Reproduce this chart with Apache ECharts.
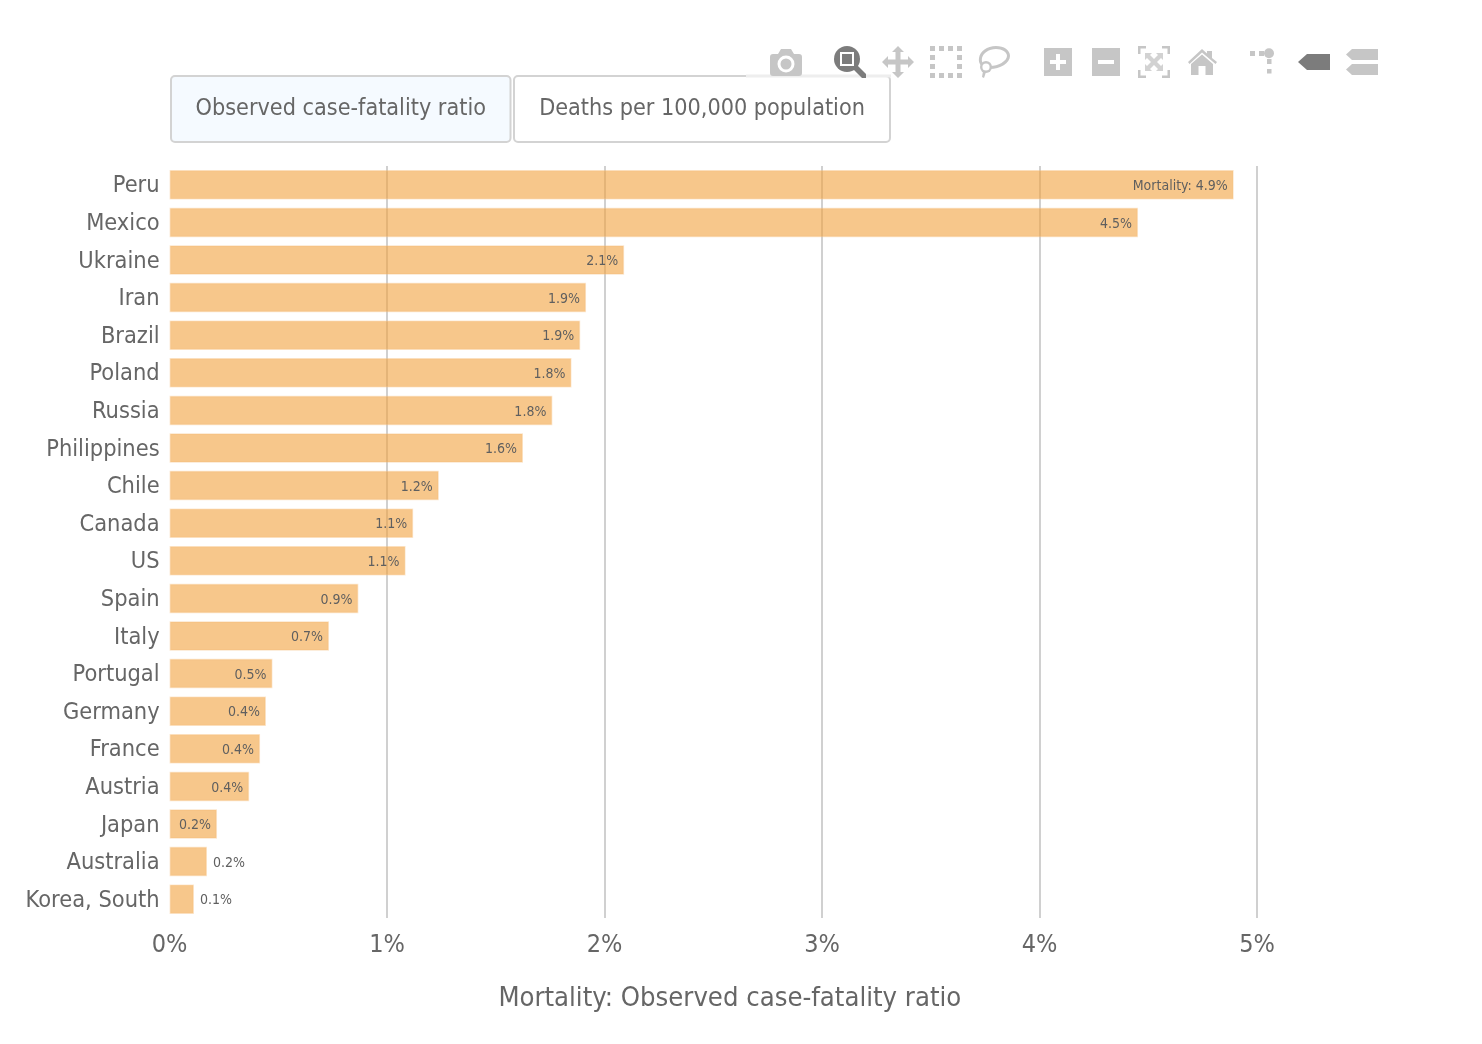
<!DOCTYPE html>
<html>
<head>
<meta charset="utf-8">
<title>Mortality</title>
<script src="https://cdn.jsdelivr.net/npm/echarts@6/dist/echarts.min.js"></script>
<style>
  html, body { margin: 0; padding: 0; background: #fff; }
  #main { width: 1482px; height: 1044px; }
</style>
</head>
<body>
<div id="main"></div>
<script>
var countries = ['Peru', 'Mexico', 'Ukraine', 'Iran', 'Brazil', 'Poland', 'Russia', 'Philippines', 'Chile', 'Canada',
  'US', 'Spain', 'Italy', 'Portugal', 'Germany', 'France', 'Austria', 'Japan', 'Australia', 'Korea, South'];
var mortality = [4.893, 4.453, 2.09, 1.915, 1.888, 1.848, 1.76, 1.625, 1.238, 1.12,
  1.085, 0.868, 0.733, 0.473, 0.443, 0.416, 0.366, 0.218, 0.172, 0.112];
var barLabels = ['Mortality: 4.9%', '4.5%', '2.1%', '1.9%', '1.9%', '1.8%', '1.8%', '1.6%', '1.2%', '1.1%',
  '1.1%', '0.9%', '0.7%', '0.5%', '0.4%', '0.4%', '0.4%', '0.2%', '0.2%', '0.1%'];
var outsideLabels = ['Australia', 'Korea, South'];
var buttonNames = ['Observed case-fatality ratio', 'Deaths per 100,000 population'];
var axisTitle = 'Mortality: Observed case-fatality ratio';

var FONT = '"DejaVu Sans Condensed", "Noto Sans", sans-serif';
var TEXT = '#666';
var LIGHT = '#c6c6c6';
var DARK = '#7c7c7c';

// circle as svg path
function circle(cx, cy, r) {
  return 'M' + (cx - r) + ' ' + cy + 'a' + r + ' ' + r + ' 0 1 0 ' + (2 * r) + ' 0a' + r + ' ' + r + ' 0 1 0 ' + (-2 * r) + ' 0Z';
}

function dashedBox() {
  var p = '';
  for (var i = 0; i < 4; i++) {
    var s = i * 9;
    p += 'M' + s + ' 0h5v5h-5ZM' + s + ' 27h5v5h-5Z';
    if (i > 0 && i < 3) p += 'M0 ' + s + 'h5v5h-5ZM27 ' + s + 'h5v5h-5Z';
  }
  return p;
}

// toolbar icons: x, y, then layers of [path, fill]
var toolIcons = [
  [770, 48, [['M0 9Q0 6 3 6H8L11 1H21L24 6H29Q32 6 32 9V25Q32 28 29 28H3Q0 28 0 25Z', LIGHT], [circle(16, 16, 8.5), '#fff'], [circle(16, 16, 5.5), LIGHT]]],
  [834, 46, [[circle(13, 13, 13), DARK], ['M19 23L23 19L32 28L32 32L28 32Z', DARK], ['M6 6H20V20H6Z', '#fff'], ['M8 8H18V18H8Z', DARK]]],
  [882, 46, [['M16 0L22 6H18.5V13.5H26V10L32 16L26 22V18.5H18.5V26H22L16 32L10 26H13.5V18.5H6V22L0 16L6 10V13.5H13.5V6H10Z', LIGHT]]],
  [930, 46, [[dashedBox(), LIGHT]]],
  [978, 46, [['M18 0C26 0 32 4 32 10C32 17 22 23 12 23C4 23 0 18 1 12C2 5 9 0 18 0Z', LIGHT], ['M18 3C24 3 29 6 29 10C29 15 20 20 12 20C6 20 3 17 4 12C5 7 11 3 18 3Z', '#fff'], [circle(8, 21, 6), LIGHT], [circle(8, 21, 3.6), '#fff'], ['M5 25L8 26L6 32L4 31Z', LIGHT]]],
  [1044, 48, [['M0 0H28V28H0Z', LIGHT], ['M12 6H16V12H22V16H16V22H12V16H6V12H12Z', '#fff']]],
  [1092, 48, [['M0 0H28V28H0Z', LIGHT], ['M6 12H22V16H6Z', '#fff']]],
  [1138, 46, [['M0 0H8V2.5H2.5V8H0ZM24 0H32V8H29.5V2.5H24ZM0 24H2.5V29.5H8V32H0ZM29.5 24H32V32H24V29.5H29.5Z', LIGHT], ['M7 7H14L12 9L16 13L20 9L18 7H25V14L23 12L19 16L23 20L25 18V25H18L20 23L16 19L12 23L14 25H7V18L9 20L13 16L9 12L7 14Z', '#d2d2d2']]],
  [1188, 49, [['M14 0L19 4.5V2H24V9L29 13L27.5 15L14 3.5L1.5 15L0 13Z', LIGHT], ['M14 5.5L25 15V26H17.5V17H10.5V26H3V15Z', LIGHT]]],
  [1250, 48, [['M0 3H5V8H0ZM9 3H14V8H9Z', LIGHT], [circle(19, 5.3, 5), LIGHT], ['M17 11H21.5V16H17ZM17 21H21.5V25.5H17Z', LIGHT]]],
  [1298, 54, [['M0 8L9 0H32V16H9Z', DARK]]],
  [1346, 49, [['M0 5.5L6 0H32V11H6ZM0 20.5L6 15H32V26H6Z', LIGHT]]]
];

var graphics = [];

function addButton(x, w, name, fill) {
  graphics.push({
    type: 'rect', x: x, y: 76, silent: true,
    shape: { x: 0, y: 0, width: w, height: 66, r: 4 },
    style: { fill: fill, stroke: '#d3d3d3', lineWidth: 2 }
  });
  graphics.push({
    type: 'text', x: x + w / 2, y: 109, silent: true,
    style: { text: name, fill: TEXT, font: '23.2px ' + FONT, align: 'center', verticalAlign: 'middle' }
  });
}
addButton(171, 339.5, buttonNames[0], '#f5faff');
addButton(514, 376, buttonNames[1], '#fff');

// the modebar background washes out the top of the second button
graphics.push({
  type: 'rect', x: 746, y: 74.5, silent: true,
  shape: { x: 0, y: 0, width: 145, height: 3 },
  style: { fill: '#eeeeee' }
});

var shapeCount = 0;
toolIcons.forEach(function (icon) {
  icon[2].forEach(function (layer) {
    var name = 'toolShape' + (shapeCount++);
    echarts.graphic.registerShape(name, echarts.graphic.extendPath(layer[0], {}));
    graphics.push({
      type: name, x: icon[0], y: icon[1], silent: true,
      style: { fill: layer[1] }
    });
  });
});

var barData = mortality.map(function (v, i) {
  var outside = outsideLabels.indexOf(countries[i]) >= 0;
  return {
    value: v,
    label: {
      show: true,
      position: outside ? 'right' : 'insideRight',
      distance: 6,
      offset: [0, 1.5],
      formatter: barLabels[i],
      color: '#5f5f5f',
      fontFamily: FONT,
      fontSize: 14
    }
  };
});

var chart = echarts.init(document.getElementById('main'));
chart.setOption({
  animation: false,
  backgroundColor: '#fff',
  grid: { left: 169.6, top: 166, width: 1087.4, height: 752, containLabel: false },
  xAxis: {
    type: 'value',
    min: 0,
    max: 5,
    interval: 1,
    name: axisTitle,
    nameLocation: 'middle',
    nameGap: 67,
    nameTextStyle: { color: TEXT, fontFamily: FONT, fontSize: 27.2, padding: [0, 0, 0, 33] },
    axisLine: { show: false },
    axisTick: { show: false },
    axisLabel: { color: TEXT, fontFamily: FONT, fontSize: 25, margin: 15, formatter: '{value}%' },
    splitLine: { show: true, showMinLine: false, lineStyle: { color: '#d0d0d0', width: 2 } }
  },
  yAxis: {
    type: 'category',
    inverse: true,
    data: countries,
    axisLine: { show: false },
    axisTick: { show: false },
    axisLabel: {
      margin: 10,
      formatter: '{name|{value}}',
      rich: { name: { color: TEXT, fontFamily: FONT, fontSize: 23.4, padding: [3, 0, 0, 0] } }
    }
  },
  series: [{
    type: 'bar',
    data: barData,
    barWidth: 29.5,
    itemStyle: {
      color: 'rgba(242,162,62,0.6)',
      borderColor: 'rgba(246,190,120,0.35)',
      borderWidth: 1.5
    }
  }],
  graphic: graphics
});
</script>
</body>
</html>
